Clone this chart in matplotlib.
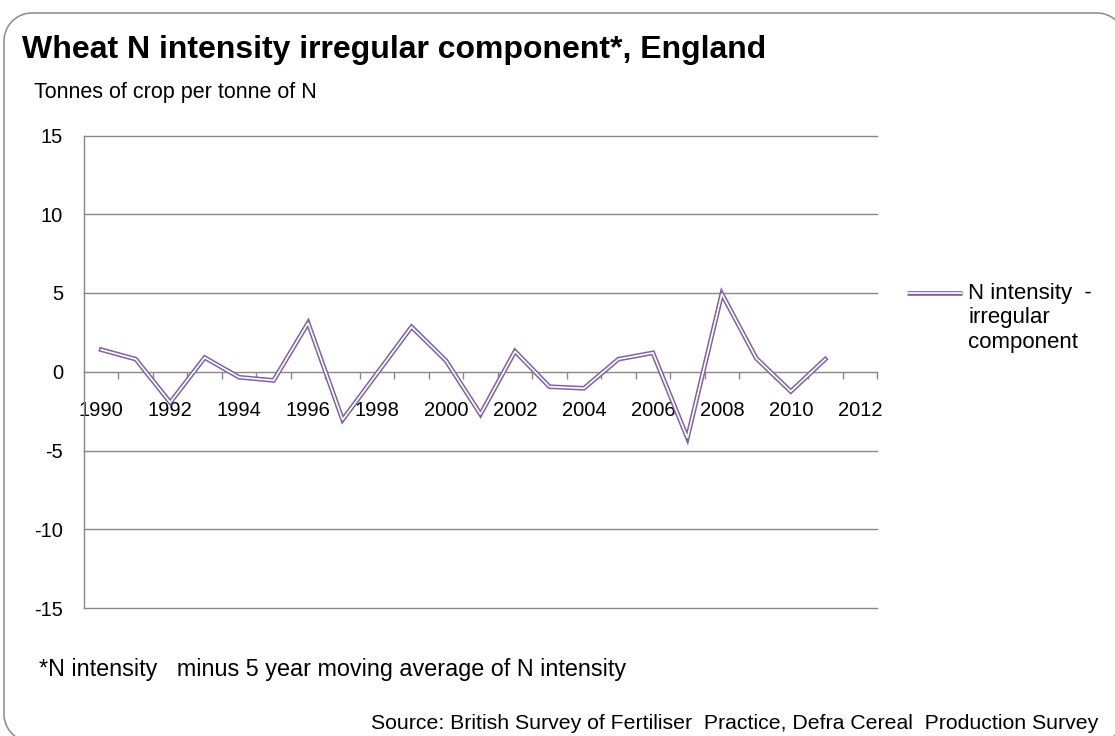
import matplotlib
matplotlib.use("Agg")
import numpy as np
import matplotlib.pyplot as plt
from matplotlib.path import Path
from matplotlib.patches import PathPatch

plt.rcParams['font.family'] = ['Liberation Sans', 'DejaVu Sans']

categories = list(range(1990, 2013))
years = list(range(1990, 2012))
values = [1.4, 0.8, -1.95, 0.9, -0.35, -0.55, 3.1, -3.05, -0.1, 2.85, 0.7,
          -2.7, 1.3, -0.95, -1.05, 0.8, 1.2, -4.2, 4.95, 0.85, -1.25, 0.8]
y_ticks = [-15, -10, -5, 0, 5, 10, 15]
x_labels = [str(y) if (y - 1990) % 2 == 0 else '' for y in categories]
legend_lines = ['N intensity  -', 'irregular', 'component']

W, H = 1115, 736
fig = plt.figure(figsize=(W / 100, H / 100), dpi=100)
fig.patch.set_facecolor('white')

# full-figure overlay in pixel coordinates (y downward)
bg = fig.add_axes([0, 0, 1, 1], zorder=0)
bg.set_xlim(0, W)
bg.set_ylim(H, 0)
bg.axis('off')


def rounded_rect(x0, y0, x1, y1, r, n=20):
    pts = []
    for cx, cy, a0 in [(x1 - r, y0 + r, -90), (x1 - r, y1 - r, 0),
                       (x0 + r, y1 - r, 90), (x0 + r, y0 + r, 180)]:
        for a in np.linspace(np.radians(a0), np.radians(a0 + 90), n):
            pts.append((cx + r * np.cos(a), cy + r * np.sin(a)))
    pts.append(pts[0])
    return Path(pts)


frame = PathPatch(rounded_rect(4, 13, 1125, 742, 28), fill=False,
                  edgecolor='#8a8a8a', linewidth=1.1)
frame.set_clip_on(False)
bg.add_patch(frame)

ax = fig.add_axes([84 / W, (H - 608) / H, (877 - 84) / W, (608 - 135.5) / H], zorder=1)
ax.patch.set_alpha(0)
grid_c = '#888888'
purple = '#8064A2'

xpos = [categories.index(y) for y in years]
ax.plot(xpos, values, color=purple, lw=3.4, solid_joinstyle='miter', zorder=3)
ax.plot(xpos, values, color='white', lw=1.2, solid_joinstyle='miter', zorder=4)

ax.set_xlim(-0.5, len(categories) - 0.5)
ax.set_ylim(-15, 15)
ax.set_yticks(y_ticks)
ax.set_yticklabels([str(v) for v in y_ticks])
for v in y_ticks:
    if v != 0:
        ax.axhline(v, color=grid_c, lw=1.0, zorder=1, clip_on=False)

for s in ['top', 'right']:
    ax.spines[s].set_visible(False)
ax.spines['left'].set_color(grid_c)
ax.spines['left'].set_linewidth(1.0)
ax.spines['bottom'].set_position(('data', 0))
ax.spines['bottom'].set_color(grid_c)
ax.spines['bottom'].set_linewidth(1.0)
ax.spines['bottom'].set_zorder(2)

ax.tick_params(axis='y', length=0, pad=15, labelsize=14.5, colors='black')
ax.set_xticks([i + 0.5 for i in range(len(categories))])
ax.set_xticklabels([])
ax.tick_params(axis='x', which='major', direction='out', length=5, color=grid_c, width=1.0)
ax.set_xticks(list(range(len(categories))), minor=True)
ax.set_xticklabels(x_labels, minor=True)
ax.tick_params(axis='x', which='minor', length=0, pad=21, labelsize=14.5)

# titles and notes
bg.text(22, 58, 'Wheat N intensity irregular component*, England',
        fontsize=23, fontweight='bold', ha='left', va='baseline')
bg.text(34, 98, 'Tonnes of crop per tonne of N',
        fontsize=15.5, ha='left', va='baseline')
bg.text(39, 676, '*N intensity   minus 5 year moving average of N intensity',
        fontsize=16.8, ha='left', va='baseline')
bg.text(1098, 729,
        'Source: British Survey of Fertiliser  Practice, Defra Cereal  Production Survey',
        fontsize=15.3, ha='right', va='baseline')

# legend (manual)
bg.plot([907, 962], [293, 293], color=purple, lw=3.4, solid_capstyle='butt')
bg.plot([907, 962], [293, 293], color='white', lw=1.2, solid_capstyle='butt')
for txt, yb in zip(legend_lines, [299, 323, 348]):
    bg.text(968, yb, txt, fontsize=16, ha='left', va='baseline')

fig.savefig('out.png', dpi=100)
